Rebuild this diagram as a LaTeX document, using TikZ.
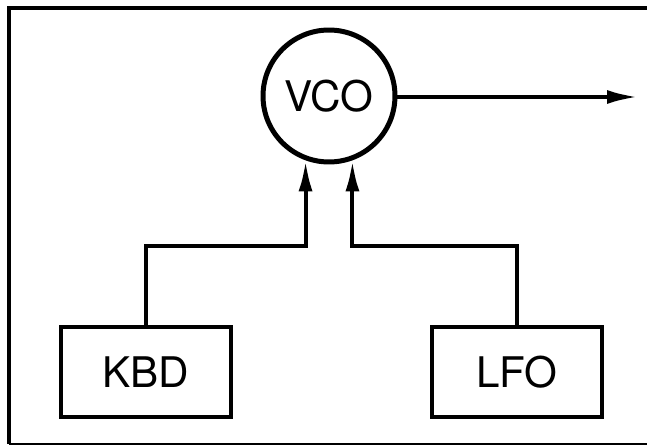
\documentclass[tikz,border=0pt]{standalone}
\usepackage{fontspec}
\setmainfont{TeX Gyre Heros}
\usepackage{tikz}
\usetikzlibrary{positioning,arrows.meta}

\tikzset{
  unitbox/.style={draw, line width=0.075cm, minimum width=3.4cm, minimum height=1.8cm, font=\fontsize{24}{28}\selectfont},
  osc/.style={draw, circle, line width=0.1cm, minimum size=2.64cm, inner sep=0pt, font=\fontsize{24}{28}\selectfont},
  sig/.style={line width=0.08cm, -{Latex[length=0.62cm,width=0.28cm]}},
}

\begin{document}
\begin{tikzpicture}[x=0.02cm, y=-0.02cm]
\useasboundingbox (0,0) rectangle (647,446);
% frame, open on the right
\draw[line width=0.07cm] (647,8) -- (9,8) -- (9,444);
\draw[line width=0.05cm] (9,444) -- (647,444);
% oscillator and its output
\node[osc] (vco) at (329,96) {VCO};
\coordinate (out) at (638,97);
\draw[sig] (vco.east |- out) -- (out);
% control sources
\node[unitbox] (kbd) at (146,372) {KBD};
\node[unitbox] (lfo) at (517,372) {LFO};
\coordinate (kbdjoin) at (vco.250 |- 0,246);
\coordinate (lfojoin) at (vco.290 |- 0,246);
\draw[sig] (kbd.north) |- (kbdjoin) -- (vco.250);
\draw[sig] (lfo.north) |- (lfojoin) -- (vco.290);
\end{tikzpicture}
\end{document}
